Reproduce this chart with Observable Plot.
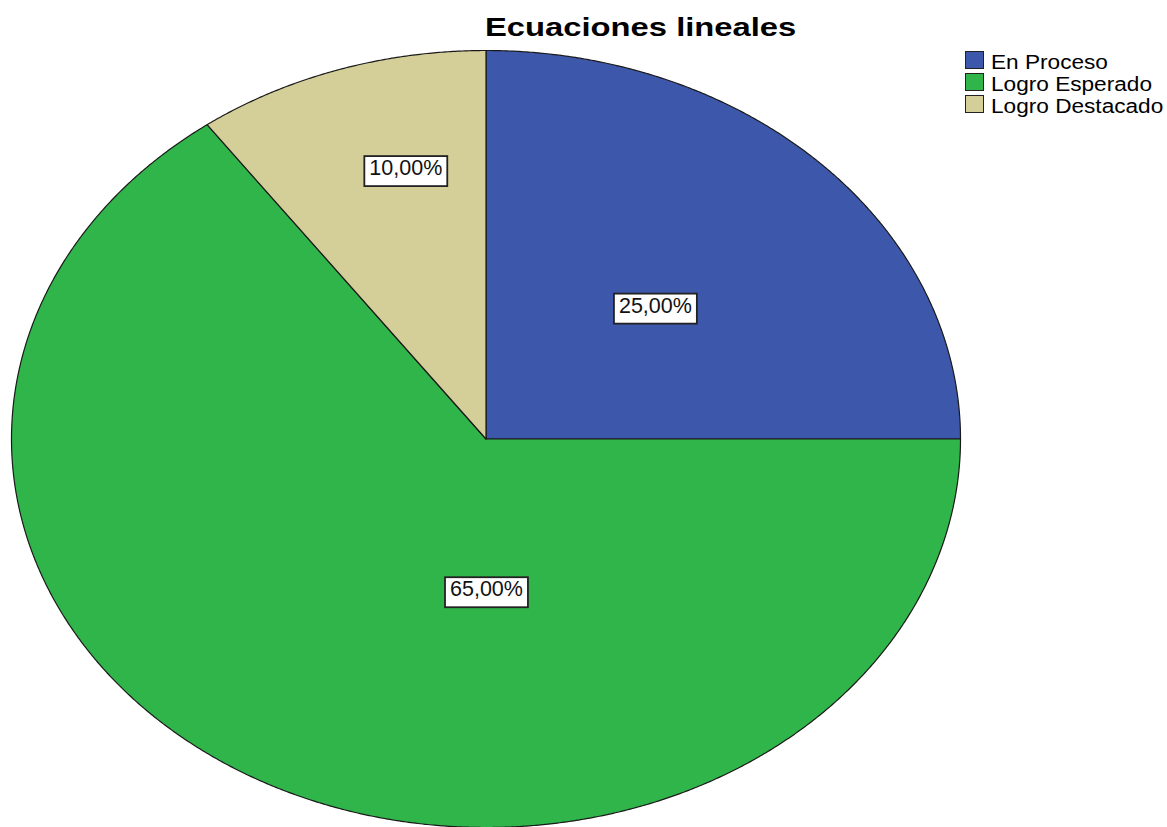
<!DOCTYPE html>
<html>
<head>
<meta charset="utf-8">
<script src="https://cdn.jsdelivr.net/npm/d3@7"></script>
<script src="https://cdn.jsdelivr.net/npm/@observablehq/plot@0.6"></script>
<style>
  body { margin: 0; background: #fff; font-family: "Liberation Sans", Arial, sans-serif; }
  #wrap { position: relative; width: 1167px; height: 827px; overflow: hidden; }
  #title { position: absolute; left: 485px; top: 15px; font-weight: bold; font-size: 25px; line-height: 25px;
           color: #000; white-space: nowrap; transform: scaleX(1.31); transform-origin: left top; }
  #legend { position: absolute; left: 965px; top: 51px; }
  .item { position: relative; height: 22px; }
  .sw { position: absolute; left: 0; top: 0; width: 17px; height: 16px; border: 1.5px solid #222; }
  .lab { position: absolute; left: 26px; top: 0px; font-size: 19.5px; line-height: 22px; white-space: nowrap;
         color: #000; transform: scaleX(1.16); transform-origin: left top; }
  svg { position: absolute; left: 0; top: 0; }
</style>
</head>
<body>
<div id="wrap">
  <div id="title"></div>
  <div id="legend"></div>
</div>
<script>
// ---- data ----
const title = "Ecuaciones lineales";
const categories = ["En Proceso", "Logro Esperado", "Logro Destacado"];
const percents = [25, 65, 10];
const labels = ["25,00%", "65,00%", "10,00%"];
// ---- styles ----
const colors = ["#3d57aa", "#2fb54a", "#d4ce98"];
// label anchors in unit pie coordinates (where the reference places each box)
const labelAnchor = [[0.357, 0.343], [0.001, -0.387], [-0.169, 0.697]];

document.getElementById("title").textContent = title;
const legend = document.getElementById("legend");
categories.forEach((c, i) => {
  const it = document.createElement("div"); it.className = "item";
  const sw = document.createElement("div"); sw.className = "sw"; sw.style.background = colors[i];
  const lb = document.createElement("div"); lb.className = "lab"; lb.textContent = c;
  it.appendChild(sw); it.appendChild(lb); legend.appendChild(it);
});

// pie geometry: start at 12 o'clock, clockwise
const arcs = d3.pie().sort(null).value(d => d)(percents);
const slices = arcs.map((a, i) => {
  const pts = [{x: 0, y: 0}];
  const n = Math.max(2, Math.ceil((a.endAngle - a.startAngle) / 0.005));
  for (let k = 0; k <= n; k++) {
    const t = a.startAngle + (a.endAngle - a.startAngle) * k / n;
    pts.push({x: Math.sin(t), y: Math.cos(t)});
  }
  pts.push({x: 0, y: 0});
  return pts;
});
const labelData = labels.map((l, i) => ({label: l, x: labelAnchor[i][0], y: labelAnchor[i][1]}));

const chart = Plot.plot({
  width: 1167, height: 827,
  marginLeft: 11, marginRight: 207, marginTop: 50, marginBottom: 0,
  x: {domain: [-1, 1], axis: null},
  y: {domain: [-1, 1], axis: null},
  marks: [
    ...slices.map((pts, i) => Plot.line(pts, {x: "x", y: "y", fill: colors[i], stroke: "#1a1a1a", strokeWidth: 1.2, curve: "linear"})),
    Plot.text(labelData, {x: "x", y: "y", text: "label", fontSize: 21.5, fill: "#111",
      fontFamily: "Liberation Sans, Arial, sans-serif"})
  ]
});
document.getElementById("wrap").appendChild(chart);

// white boxes behind labels
chart.querySelectorAll('g[aria-label="text"] text').forEach(t => {
  const b = t.getBBox();
  const r = document.createElementNS("http://www.w3.org/2000/svg", "rect");
  r.setAttribute("x", b.x - 5); r.setAttribute("y", b.y);
  r.setAttribute("width", b.width + 10); r.setAttribute("height", b.height + 6);
  r.setAttribute("fill", "#fff"); r.setAttribute("stroke", "#222"); r.setAttribute("stroke-width", 1.8);
  if (t.getAttribute("transform")) r.setAttribute("transform", t.getAttribute("transform"));
  t.parentNode.insertBefore(r, t);
});
</script>
</body>
</html>
